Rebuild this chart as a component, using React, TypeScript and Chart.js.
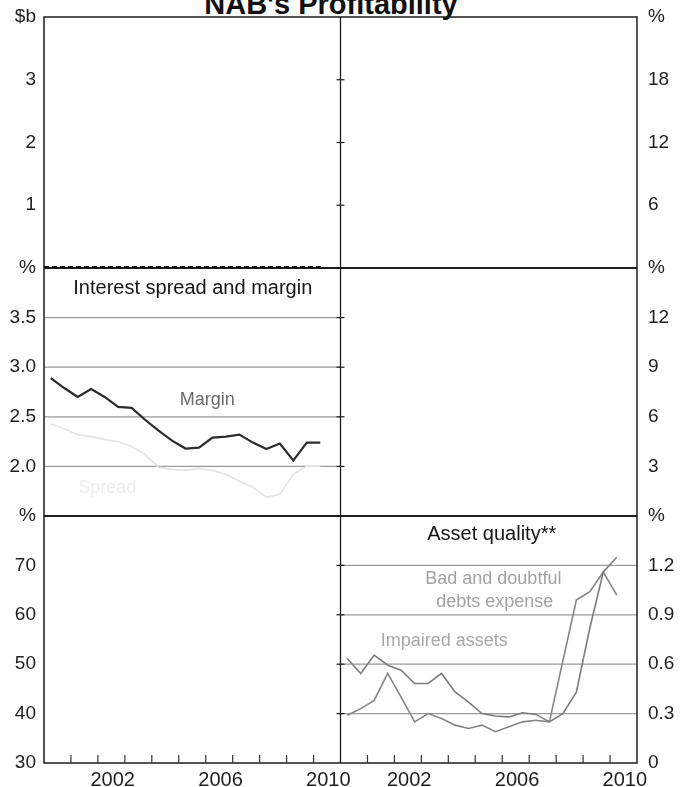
import React, { useEffect, useRef } from 'react';
import { Chart, registerables } from 'chart.js';

Chart.register(...registerables);

const TITLE = "NAB's Profitability";
const FONT = '"Liberation Sans", Arial, Helvetica, sans-serif';

// Half-yearly observation dates
const periods = [
  2000.25, 2000.75, 2001.25, 2001.75, 2002.25, 2002.75, 2003.25, 2003.75, 2004.25, 2004.75,
  2005.25, 2005.75, 2006.25, 2006.75, 2007.25, 2007.75, 2008.25, 2008.75, 2009.25, 2009.75, 2010.25,
];

// Interest spread and margin (%)
const marginValues = [
  2.89, 2.79, 2.7, 2.78, 2.7, 2.6, 2.59, 2.47, 2.36, 2.26,
  2.18, 2.19, 2.29, 2.3, 2.32, 2.24, 2.175, 2.23, 2.06, 2.24, 2.24,
];
const spreadValues = [
  2.43, 2.38, 2.32, 2.3, 2.27, 2.25, 2.2, 2.12, 1.99, 1.97,
  1.96, 1.98, 1.96, 1.92, 1.85, 1.79, 1.69, 1.72, 1.92, 2.0, 2.0,
];

// Asset quality (%)
const impairedAssets = [
  0.635, 0.544, 0.655, 0.594, 0.564, 0.483, 0.483, 0.544, 0.432, 0.37,
  0.3, 0.285, 0.28, 0.305, 0.295, 0.25, 0.3, 0.43, 0.82, 1.16, 1.25,
];
const badDebtsExpense = [
  0.29, 0.33, 0.38, 0.544, 0.4, 0.25, 0.3, 0.27, 0.23, 0.21,
  0.23, 0.19, 0.22, 0.25, 0.26, 0.25, 0.62, 0.99, 1.04, 1.16, 1.02,
];

// Dashed line along the foot of the top-left panel
const topDashPeriods = [2000.0, 2010.3];
const topDashValues = [0, 0];

// Axis ticks
const yTopLeftTicks = [0, 1, 2, 3, 4];
const yTopRightTicks = [0, 6, 12, 18, 24];
const yMidLeftTicks = [1.5, 2.0, 2.5, 3.0, 3.5, 4.0];
const yMidRightTicks = [0, 3, 6, 9, 12, 15];
const yBotLeftTicks = [30, 40, 50, 60, 70, 80];
const yBotRightTicks = [0, 0.3, 0.6, 0.9, 1.2, 1.5];
const yearTicks = [2001, 2002, 2003, 2004, 2005, 2006, 2007, 2008, 2009, 2010];
const xLabelYears = [2002, 2006, 2010];

const pts = (xs: number[], ys: number[]) => xs.map((x, i) => ({ x, y: ys[i] }));

function yScale(
  position: 'left' | 'right',
  weight: number,
  ticks: number[],
  unit: string,
  fmt: (v: number) => string,
  hideMin: boolean,
) {
  return {
    type: 'linear',
    position,
    stack: position === 'left' ? 'L' : 'R',
    stackWeight: weight,
    min: ticks[0],
    max: ticks[ticks.length - 1],
    grid: { display: false, drawTicks: false },
    border: { display: false },
    afterBuildTicks: (s: any) => {
      s.ticks = ticks.map((v) => ({ value: v }));
    },
    afterFit: (s: any) => {
      s.width = 44;
      s.paddingTop = 0;
      s.paddingBottom = 0;
    },
    ticks: {
      font: { family: FONT, size: 19 },
      color: '#1e1e1e',
      padding: position === 'left' ? 8 : 11,
      autoSkip: false,
      callback: (v: any, i: number, arr: any[]) => {
        if (i === arr.length - 1) return unit;
        if (i === 0 && hideMin) return '';
        return fmt(Number(v));
      },
    },
  };
}

function xScale() {
  return {
    type: 'linear',
    position: 'bottom',
    stack: 'X',
    stackWeight: 1,
    min: 2000,
    max: 2011,
    grid: { display: false, drawTicks: false },
    border: { display: false },
    afterBuildTicks: (s: any) => {
      s.ticks = xLabelYears.map((y) => ({ value: y + 0.55 }));
    },
    afterFit: (s: any) => {
      s.height = 24;
    },
    ticks: {
      font: { family: FONT, size: 20 },
      color: '#1e1e1e',
      padding: 5,
      maxRotation: 0,
      autoSkip: false,
      callback: (v: any) => String(Math.floor(Number(v))),
    },
  };
}

const one = (v: number) => v.toFixed(1);
const plain = (v: number) => String(v);
const qual = (v: number) => (v === 0 ? '0' : v.toFixed(1));

const annotations: [string, string, string, number, number, string, string][] = [
  ['Interest spread and margin', 'xL', 'yMidL', 2005.52, 3.79, '#151515', '20px'],
  ['Margin', 'xL', 'yMidL', 2006.06, 2.666, '#6a6a6a', '18px'],
  ['Spread', 'xL', 'yMidL', 2002.35, 1.78, '#ededed', '18px'],
  ['Asset quality**', 'xR', 'yBotR', 2005.61, 1.388, '#151515', '20px'],
  ['Bad and doubtful', 'xR', 'yBotR', 2005.67, 1.12, '#a2a2a2', '18px'],
  ['debts expense', 'xR', 'yBotR', 2005.72, 0.98, '#a2a2a2', '18px'],
  ['Impaired assets', 'xR', 'yBotR', 2003.85, 0.74, '#a8a8a8', '18px'],
];

const hline = (ctx: CanvasRenderingContext2D, x1: number, x2: number, y: number) => {
  ctx.beginPath();
  ctx.moveTo(x1, y);
  ctx.lineTo(x2, y);
  ctx.stroke();
};
const vline = (ctx: CanvasRenderingContext2D, x: number, y1: number, y2: number) => {
  ctx.beginPath();
  ctx.moveTo(x, y1);
  ctx.lineTo(x, y2);
  ctx.stroke();
};

const decor = {
  id: 'decor',
  beforeDatasetsDraw(chart: any) {
    const { ctx, chartArea: ca, scales: s } = chart;
    const xL = s.xL;
    const xR = s.xR;
    ctx.save();
    // horizontal grid lines in the two panels that have them
    ctx.strokeStyle = '#9a9a9a';
    ctx.lineWidth = 1.3;
    yMidLeftTicks.slice(1, -1).forEach((v) => hline(ctx, xL.left, xL.right, s.yMidL.getPixelForValue(v)));
    yBotRightTicks.slice(1, -1).forEach((v) => hline(ctx, xR.left, xR.right, s.yBotR.getPixelForValue(v)));
    // frame
    ctx.strokeStyle = '#1c1c1c';
    ctx.lineWidth = 1.5;
    ctx.strokeRect(ca.left, ca.top, ca.right - ca.left, ca.bottom - ca.top);
    ctx.lineWidth = 1.3;
    vline(ctx, xL.right, ca.top, ca.bottom);
    ctx.lineWidth = 2;
    hline(ctx, ca.left, ca.right, s.yTopL.bottom);
    hline(ctx, ca.left, ca.right, s.yMidL.bottom);
    // small ticks across the central divider
    ctx.lineWidth = 1.2;
    ([
      [s.yTopL, yTopLeftTicks],
      [s.yMidL, yMidLeftTicks],
      [s.yBotL, yBotLeftTicks],
    ] as [any, number[]][]).forEach(([sc, tk]) => {
      tk.slice(1, -1).forEach((v) => hline(ctx, xL.right - 4, xL.right + 4, sc.getPixelForValue(v)));
    });
    // year ticks on the bottom axis
    ctx.lineWidth = 1.2;
    ctx.strokeStyle = '#333';
    [xL, xR].forEach((xs: any) => {
      yearTicks.forEach((yr) => vline(ctx, xs.getPixelForValue(yr), ca.bottom, ca.bottom - 8));
    });
    ctx.restore();
  },
  afterDatasetsDraw(chart: any) {
    const { ctx, scales: s } = chart;
    ctx.save();
    ctx.textAlign = 'center';
    ctx.textBaseline = 'middle';
    annotations.forEach(([txt, xs, ys, xv, yv, col, size]) => {
      ctx.font = `${size} ${FONT}`;
      ctx.fillStyle = col;
      ctx.fillText(txt, s[xs].getPixelForValue(xv), s[ys].getPixelForValue(yv));
    });
    ctx.restore();
  },
};

export default function App() {
  const ref = useRef<HTMLCanvasElement | null>(null);

  useEffect(() => {
    if (!ref.current) return;
    const line = (data: any[], xAxisID: string, yAxisID: string, color: string, width: number, extra: any = {}) => ({
      data,
      xAxisID,
      yAxisID,
      borderColor: color,
      backgroundColor: color,
      borderWidth: width,
      pointRadius: 0,
      tension: 0,
      fill: false,
      ...extra,
    });
    const chart = new Chart(ref.current, {
      type: 'line',
      data: {
        datasets: [
          line(pts(periods, spreadValues), 'xL', 'yMidL', '#e4e4e4', 1.6),
          line(pts(periods, marginValues), 'xL', 'yMidL', '#2c2c2c', 2.2),
          line(pts(periods, impairedAssets), 'xR', 'yBotR', '#7c7c7c', 1.6),
          line(pts(periods, badDebtsExpense), 'xR', 'yBotR', '#858585', 1.6),
          line(pts(topDashPeriods, topDashValues), 'xL', 'yTopL', '#0a0a0a', 4, { borderDash: [5, 3] }),
        ],
      },
      options: {
        animation: false,
        responsive: false,
        devicePixelRatio: 1,
        events: [],
        layout: { padding: { top: 17, left: 0, right: 0, bottom: 0 } },
        plugins: {
          legend: { display: false },
          tooltip: { enabled: false },
          title: { display: false },
        },
        scales: {
          yBotL: yScale('left', 247, yBotLeftTicks, '%', plain, false),
          yMidL: yScale('left', 248, yMidLeftTicks, '%', one, true),
          yTopL: yScale('left', 251, yTopLeftTicks, '$b', plain, true),
          yTopR: yScale('right', 251, yTopRightTicks, '%', plain, true),
          yMidR: yScale('right', 248, yMidRightTicks, '%', plain, true),
          yBotR: yScale('right', 247, yBotRightTicks, '%', qual, false),
          xL: xScale(),
          xR: xScale(),
        } as any,
      },
      plugins: [decor as any],
    } as any);
    return () => chart.destroy();
  }, []);

  return (
    <div style={{ position: 'absolute', left: 0, top: 0, width: 681, height: 787, overflow: 'hidden', background: '#fff' }}>
      <div
        style={{
          position: 'absolute',
          left: 0,
          top: -10,
          width: 662,
          textAlign: 'center',
          fontFamily: FONT,
          fontWeight: 'bold',
          fontSize: 29,
          lineHeight: '29px',
          color: '#111',
          whiteSpace: 'nowrap',
        }}
      >
        {TITLE}
      </div>
      <canvas ref={ref} width={681} height={787} style={{ position: 'absolute', left: 0, top: 0 }} />
    </div>
  );
}
